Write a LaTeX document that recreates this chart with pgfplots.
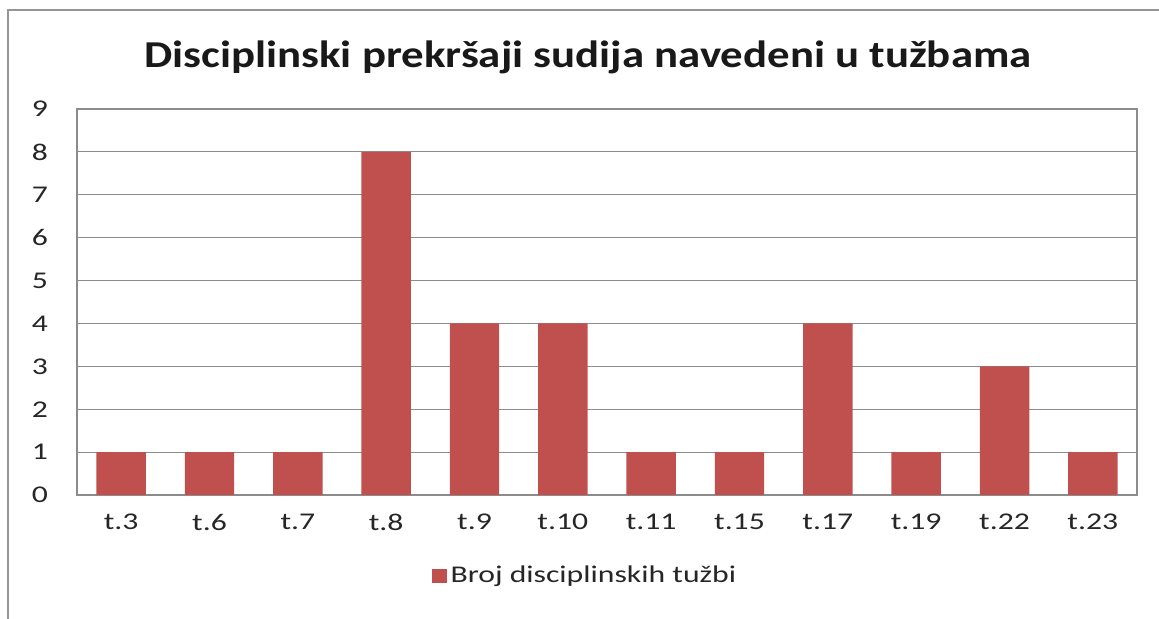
\documentclass[border=0pt]{standalone}
\usepackage{pgfplots}
\pgfplotsset{compat=1.18}
\usepackage{fontspec}
\setmainfont[FakeStretch=1.32]{Carlito}
\newfontfamily\titlefont[FakeStretch=1.18]{Carlito}
\definecolor{barred}{RGB}{192,80,77}
\definecolor{gridgray}{RGB}{140,140,140}
\definecolor{framegray}{RGB}{150,150,150}
\begin{document}
\begin{tikzpicture}
\useasboundingbox (-38.5pt,-62pt) rectangle (541pt,247.5pt);
\draw[framegray, line width=1pt] (-34.5pt,-70pt) -- (-34.5pt,242.5pt) -- (550pt,242.5pt);
\begin{axis}[
  at={(0,0)}, anchor=south west,
  scale only axis, width=530pt, height=193pt,
  xmin=-0.5, xmax=11.5, ymin=0, ymax=9,
  xtick=data,
  xticklabels={t.3,t.6,t.7,t.8,t.9,t.10,t.11,t.15,t.17,t.19,t.22,t.23},
  ytick={0,1,...,9},
  ymajorgrids, grid style={gridgray, line width=0.6pt},
  axis line style={gridgray, line width=0.6pt},
  major tick length=0pt,
  tick label style={font=\fontsize{12}{14}\selectfont, text=black!85},
  /pgf/number format/assume math mode=true,
  yticklabel style={xshift=-11pt},
  xticklabel style={yshift=-6pt},
  legend style={at={(254.5pt,-40.5pt)}, anchor=center, draw=none,
    font=\fontsize{12}{14}\selectfont, text=black!85,
    legend cell align=left},
  legend image code/.code={\fill[barred] (0pt,-3.7pt) rectangle (7.4pt,3.7pt);},
]
\addplot[ybar, bar width=0.56, fill=barred, draw=none, bar shift=0pt]
  coordinates {(0,1) (1,1) (2,1) (3,8) (4,4) (5,4) (6,1) (7,1) (8,4) (9,1) (10,3) (11,1)};
\addlegendentry{Broj disciplinskih tužbi}
\end{axis}
\node[anchor=base, font=\titlefont\fontsize{19}{22}\selectfont\bfseries, text=black!90] at (255.5pt,213.5pt) {Disciplinski prekršaji sudija navedeni u tužbama};
\end{tikzpicture}
\end{document}
